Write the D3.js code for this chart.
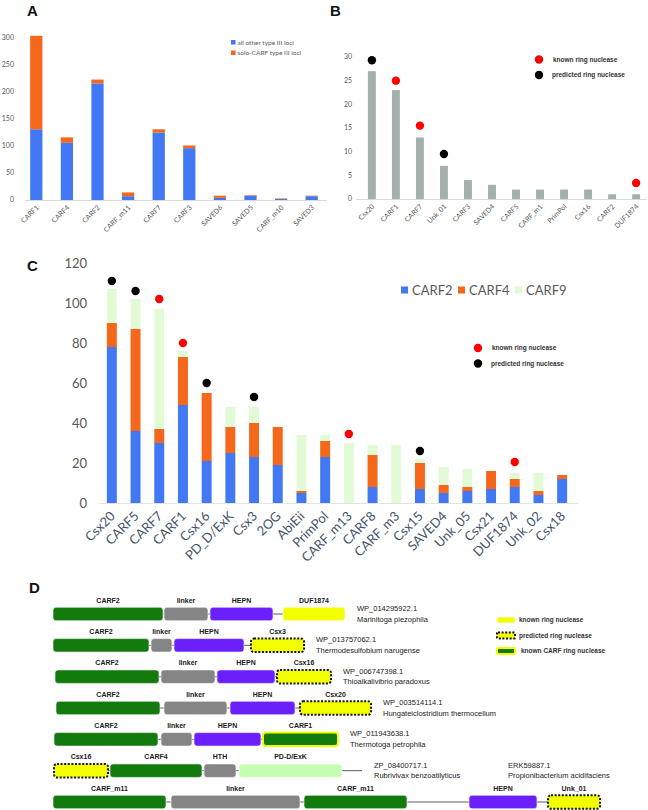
<!DOCTYPE html>
<html><head><meta charset="utf-8">
<script src="https://cdn.jsdelivr.net/npm/d3@7"></script>
<style>body{margin:0;background:#fff}</style>
</head><body><svg id="c" width="648" height="810"></svg>
<script>
// ---------- Panel A data ----------
const catsA = ["CARF1","CARF4","CARF2","CARF_m11","CARF7","CARF3","SAVED6","SAVED5","CARF_m10","SAVED3"];
const otherA = [131,106,216,7,125,96,4,8,2,7];
const soloA = [173,10,7,7,6,5,4,1,1,1];
const ticksA = [0,50,100,150,200,250,300];
const legendA = ["all other type III loci","solo-CARF type III loci"];
// ---------- Panel B data ----------
const catsB = ["Csx20","CARF1","CARF7","Unk_01","CARF3","SAVED4","CARF5","CARF_m1","PrimPol","Csx16","CARF2","DUF1874"];
const valsB = [27,23,13,7,4,3,2,2,2,2,1,1];
const ticksB = [0,5,10,15,20,25,30];
const dotCatsB = ["Csx20","CARF1","CARF7","Unk_01","DUF1874"];
const dotValsB = [29.3,25,15.5,9.5,3.4];
const dotTypesB = ["predicted","known","known","predicted","known"];
// ---------- Panel C data ----------
const catsC = ["Csx20","CARF5","CARF7","CARF1","Csx16","PD_D/ExK","Csx3","2OG","AbiEii","PrimPol","CARF_m13","CARF8","CARF_m3","Csx15","SAVED4","Unk_05","Csx21","DUF1874","Unk_02","Csx18"];
const carf2C = [78,36,30,49,21,25,23,19,5,23,0,8,0,7,5,6,7,8,4,12];
const carf4C = [12,51,7,24,34,13,17,19,1,8,0,16,0,13,4,2,9,4,2,2];
const carf9C = [17,15,60,3,0,10,8,0,28,3,30,5,29,2,9,9,0,3,9,0];
const ticksC = [0,20,40,60,80,100,120];
const seriesC = ["CARF2","CARF4","CARF9"];
const dotCatsC = ["Csx20","CARF5","CARF7","CARF1","Csx16","Csx3","CARF_m13","Csx15","DUF1874"];
const dotValsC = [111,106,102,80,60,53,34.5,26,20.5];
const dotTypesC = ["predicted","predicted","known","known","predicted","predicted","known","predicted","known"];
const dotLegend = ["known ring nuclease","predicted ring nuclease"];
// ---------- Panel D data (domain extents in arbitrary residue-like units) ----------
const rowsD = [
  [["CARF2",0,110,"carf"],["linker",111,155,"linker"],["HEPN",157,220,"hepn"],["DUF1874",230,292,"known"]],
  [["CARF2",0,96,"carf"],["linker",98,119,"linker"],["HEPN",121,191,"hepn"],["Csx3",198,251,"predicted"]],
  [["CARF2",2,106,"carf"],["linker",108,162,"linker"],["HEPN",164,222,"hepn"],["Csx16",224,278,"predicted"]],
  [["CARF2",3,107,"carf"],["linker",111,174,"linker"],["HEPN",177,242,"hepn"],["Csx20",247,318,"predicted"]],
  [["CARF2",1,105,"carf"],["linker",108,139,"linker"],["HEPN",141,208,"hepn"],["CARF1",210,285,"carfKnown"]],
  [["Csx16",1,55,"predicted"],["CARF4",57,149,"carf"],["HTH",151,183,"linker"],["PD-D/ExK",186,289,"pdd"]],
  [["CARF_m11",0,113,"carf"],["linker",118,247,"linker"],["CARF_m11",251,354,"carf"],["HEPN",416,484,"hepn"],["Unk_01",495,547,"predicted"]]
];
const tailD = [0,0,0,0,0,20,0];
const accD = ["WP_014295922.1","WP_013757062.1","WP_006747398.1","WP_003514114.1","WP_011943638.1","ZP_08400717.1","ERK59887.1"];
const orgD = ["Marinitoga piezophila","Thermodesulfobium narugense","Thioalkalivibrio paradoxus","Hungateiclostridium thermocellum","Thermotoga petrophila","Rubrivivax benzoatilyticus","Propionibacterium acidifaciens"];
const legendD = [["known ring nuclease","known"],["predicted ring nuclease","predicted"],["known CARF ring nuclease","carfKnown"]];

const svg = d3.select("#c");
const ARIAL = "'Liberation Sans', Arial, sans-serif";
const SOFT = "Lato, 'Open Sans', sans-serif";
const blue = "#4278f3", orange = "#f5671b", lgreen = "#e2fbd6";

function panelLabel(t, x, y){
  svg.append("text").attr("x",x).attr("y",y).text(t)
    .attr("font-family",ARIAL).attr("font-weight","bold").attr("font-size",15).attr("fill","#111");
}

// ================= Panel A =================
panelLabel("A", 27, 16);
const xA = d3.scaleBand().domain(catsA).range([21,327]).paddingInner(0.6).paddingOuter(0.3);
const yA = d3.scaleLinear().domain([0,300]).range([200,38]);
const gA = svg.append("g");
gA.selectAll(".ta").data(ticksA).join("text")
  .attr("x",14).attr("y",d=>yA(d)).attr("dy","0.35em").attr("text-anchor","end")
  .attr("font-family",SOFT).attr("font-size",7).attr("fill","#595959").text(d=>d);
gA.selectAll(".bo").data(catsA).join("rect")
  .attr("x",d=>xA(d)).attr("width",xA.bandwidth())
  .attr("y",(d,i)=>yA(otherA[i])).attr("height",(d,i)=>yA(0)-yA(otherA[i])).attr("fill",blue);
gA.selectAll(".bs").data(catsA).join("rect")
  .attr("x",d=>xA(d)).attr("width",xA.bandwidth())
  .attr("y",(d,i)=>yA(otherA[i]+soloA[i])).attr("height",(d,i)=>yA(otherA[i])-yA(otherA[i]+soloA[i])).attr("fill",orange);
gA.append("line").attr("x1",25).attr("x2",327).attr("y1",yA(0)+0.5).attr("y2",yA(0)+0.5).attr("stroke","#d9d9d9");
gA.selectAll(".la").data(catsA).join("text")
  .attr("transform",d=>`translate(${xA(d)+xA.bandwidth()/2+3},${yA(0)+8}) rotate(-45)`)
  .attr("text-anchor","end").attr("font-family",SOFT).attr("font-size",7).attr("fill","#595959").text(d=>d);
legendA.forEach((t,i)=>{
  gA.append("rect").attr("x",231).attr("y",40+i*10.5).attr("width",4.5).attr("height",4.5).attr("fill",i?orange:blue);
  gA.append("text").attr("x",237.5).attr("y",42.5+i*10.5).attr("dy","0.35em").attr("font-family",SOFT)
    .attr("font-size",6.5).attr("fill","#595959").text(t);
});

// ================= Panel B =================
panelLabel("B", 330, 16);
const xB = d3.scaleBand().domain(catsB).range([360,648]).paddingInner(0.67).paddingOuter(0.33);
const yB = d3.scaleLinear().domain([0,30]).range([199,57]);
const gB = svg.append("g");
gB.selectAll(".tb").data(ticksB).join("text")
  .attr("x",352).attr("y",d=>yB(d)).attr("dy","0.35em").attr("text-anchor","end")
  .attr("font-family",SOFT).attr("font-size",7).attr("fill","#595959").text(d=>d);
gB.selectAll(".bb").data(catsB).join("rect")
  .attr("x",d=>xB(d)).attr("width",xB.bandwidth())
  .attr("y",(d,i)=>yB(valsB[i])).attr("height",(d,i)=>yB(0)-yB(valsB[i])).attr("fill","#a5afad");
gB.append("line").attr("x1",356).attr("x2",647).attr("y1",yB(0)+0.5).attr("y2",yB(0)+0.5).attr("stroke","#d9d9d9");
gB.selectAll(".lb").data(catsB).join("text")
  .attr("transform",d=>`translate(${xB(d)+xB.bandwidth()/2+3},${yB(0)+8}) rotate(-45)`)
  .attr("text-anchor","end").attr("font-family",SOFT).attr("font-size",7).attr("fill","#595959").text(d=>d);
gB.selectAll(".db").data(dotCatsB).join("circle")
  .attr("cx",d=>xB(d)+xB.bandwidth()/2).attr("cy",(d,i)=>yB(dotValsB[i])).attr("r",4.2)
  .attr("fill",(d,i)=>dotTypesB[i]==="known"?"#ff0000":"#000");
dotLegend.forEach((t,i)=>{
  gB.append("circle").attr("cx",539).attr("cy",59.5+i*15.5).attr("r",4.2).attr("fill",i?"#000":"#ff0000");
  gB.append("text").attr("x",i?552:553).attr("y",59.5+i*15.5).attr("dy","0.35em").attr("font-family",ARIAL)
    .attr("font-weight","bold").attr("font-size",6.5).attr("fill","#333").text(t);
});

// ================= Panel C =================
panelLabel("C", 27, 271);
const xC = d3.scaleBand().domain(catsC).range([100,574]).paddingInner(0.58).paddingOuter(0.29);
const yC = d3.scaleLinear().domain([0,120]).range([503,263]);
const gC = svg.append("g");
gC.selectAll(".tc").data(ticksC).join("text")
  .attr("x",87).attr("y",d=>yC(d)).attr("dy","0.35em").attr("text-anchor","end")
  .attr("font-family",SOFT).attr("font-size",13).attr("fill","#595959").text(d=>d);
const tableC = catsC.map((c,i)=>({cat:c, CARF2:carf2C[i], CARF4:carf4C[i], CARF9:carf9C[i]}));
const stackC = d3.stack().keys(seriesC)(tableC);
const colC = d3.scaleOrdinal().domain(seriesC).range([blue,orange,lgreen]);
gC.selectAll(".sc").data(stackC).join("g").attr("fill",d=>colC(d.key))
  .selectAll("rect").data(d=>d).join("rect")
  .attr("x",d=>xC(d.data.cat)).attr("width",xC.bandwidth())
  .attr("y",d=>yC(d[1])).attr("height",d=>yC(d[0])-yC(d[1]));
gC.append("line").attr("x1",100).attr("x2",578).attr("y1",yC(0)+0.5).attr("y2",yC(0)+0.5).attr("stroke","#e3e3e3");
gC.selectAll(".lc").data(catsC).join("text")
  .attr("transform",d=>`translate(${xC(d)+xC.bandwidth()/2+4},${yC(0)+14}) rotate(-45)`)
  .attr("text-anchor","end").attr("font-family",SOFT).attr("font-size",13).attr("fill","#44546a").text(d=>d);
gC.selectAll(".dc").data(dotCatsC).join("circle")
  .attr("cx",d=>xC(d)+xC.bandwidth()/2).attr("cy",(d,i)=>yC(dotValsC[i])).attr("r",4.2)
  .attr("fill",(d,i)=>dotTypesC[i]==="known"?"#ff0000":"#000");
seriesC.forEach((s,i)=>{
  const x0 = 401 + i*57;
  gC.append("rect").attr("x",x0).attr("y",286.5).attr("width",7).attr("height",7).attr("fill",colC(s));
  gC.append("text").attr("x",x0+11).attr("y",290).attr("dy","0.35em").attr("font-family",SOFT)
    .attr("font-size",13).attr("fill","#595959").text(s);
});
dotLegend.forEach((t,i)=>{
  gC.append("circle").attr("cx",478).attr("cy",348+i*15.5).attr("r",4.2).attr("fill",i?"#000":"#ff0000");
  gC.append("text").attr("x",i?491:492).attr("y",348+i*15.5).attr("dy","0.35em").attr("font-family",ARIAL)
    .attr("font-weight","bold").attr("font-size",6.5).attr("fill","#333").text(t);
});

// ================= Panel D =================
panelLabel("D", 29, 593);
const xD = d3.scaleLinear().domain([0,550]).range([53,603]);
const yD = d3.scalePoint().domain(d3.range(rowsD.length)).range([614,802]);
const fillD = {carf:"#137a0e", linker:"#858585", hepn:"#6a1ffb", known:"#f3ff00", predicted:"#f3ff00", carfKnown:"#137a0e", pdd:"#c6ffb4"};
const boxH = 13.5;
const gD = svg.append("g");
function drawBox(g, kind, x, y, w, h){
  const r = g.append("rect").attr("x",x).attr("y",y).attr("width",w).attr("height",h).attr("rx",3)
    .attr("fill",fillD[kind]);
  if(kind==="predicted") r.attr("stroke","#111").attr("stroke-width",2).attr("stroke-dasharray","2,1.6");
  else if(kind==="carfKnown") r.attr("stroke","#f3ff00").attr("stroke-width",2);
  else r.attr("stroke","#fff").attr("stroke-width",0.6);
  return r;
}
rowsD.forEach((doms,i)=>{
  const cy = yD(i);
  const g = gD.append("g");
  const start = doms[0][1], end = doms[doms.length-1][2] + tailD[i];
  g.append("line").attr("x1",xD(start)).attr("x2",xD(end)).attr("y1",cy).attr("y2",cy).attr("stroke","#333").attr("stroke-width",0.8);
  doms.forEach(([name,s,e,kind])=>{
    drawBox(g, kind, xD(s), cy-boxH/2, xD(e)-xD(s), boxH);
    g.append("text").attr("x",(xD(s)+xD(e))/2).attr("y",cy-boxH/2-4.5).attr("text-anchor","middle")
      .attr("font-family",ARIAL).attr("font-weight","bold").attr("font-size",7).attr("fill","#222").text(name);
  });
});
accD.forEach((a,i)=>{
  let tx, ty;
  if(i===rowsD.length-1){ tx = xD(455); ty = yD(i-1); }
  else { const doms = rowsD[i]; tx = xD(doms[doms.length-1][2] + tailD[i]) + 12; ty = yD(i); }
  gD.append("text").attr("x",tx).attr("y",ty-5.5).attr("dy","0.35em").attr("font-family",ARIAL)
    .attr("font-size",7.5).attr("fill","#222").text(a);
  gD.append("text").attr("x",tx).attr("y",ty+5).attr("dy","0.35em").attr("font-family",ARIAL)
    .attr("font-size",7.5).attr("fill","#222").text(orgD[i]);
});
legendD.forEach(([t,kind],i)=>{
  const y = 617 + i*15.5;
  drawBox(gD, kind, 497, y, 18, 6).attr("rx",1);
  gD.append("text").attr("x",kind==="carfKnown"?521:519).attr("y",y+3).attr("dy","0.35em").attr("font-family",ARIAL)
    .attr("font-weight","bold").attr("font-size",6.5).attr("fill","#333").text(t);
});
</script></body></html>
